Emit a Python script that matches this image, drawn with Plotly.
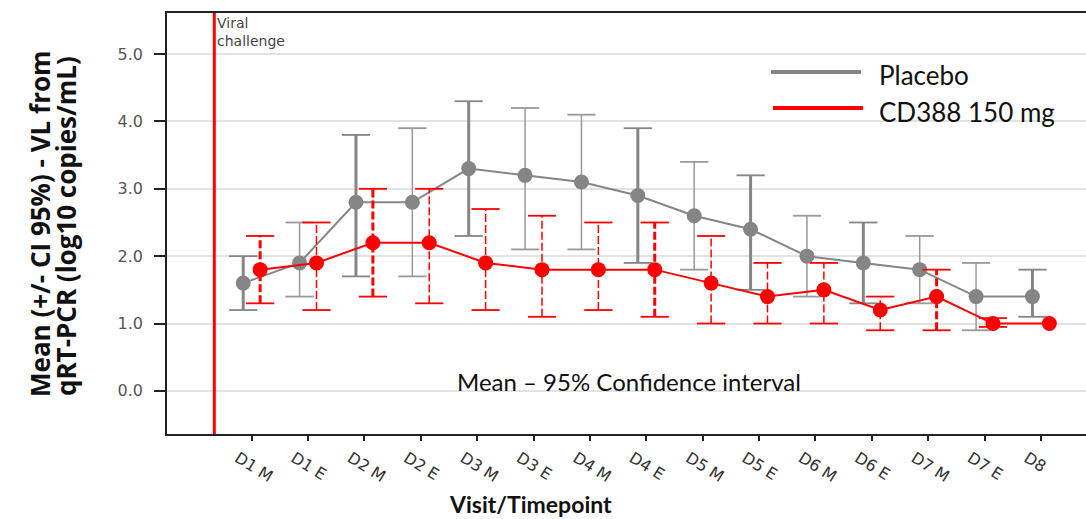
import plotly.graph_objects as go

timepoints = ["D1 M", "D1 E", "D2 M", "D2 E", "D3 M", "D3 E", "D4 M", "D4 E",
              "D5 M", "D5 E", "D6 M", "D6 E", "D7 M", "D7 E", "D8"]

placebo_mean = [1.6, 1.9, 2.8, 2.8, 3.3, 3.2, 3.1, 2.9, 2.6, 2.4, 2.0, 1.9, 1.8, 1.4, 1.4]
placebo_low  = [1.2, 1.4, 1.7, 1.7, 2.3, 2.1, 2.1, 1.9, 1.8, 1.5, 1.4, 1.3, 1.3, 0.9, 1.1]
placebo_high = [2.0, 2.5, 3.8, 3.9, 4.3, 4.2, 4.1, 3.9, 3.4, 3.2, 2.6, 2.5, 2.3, 1.9, 1.8]

cd388_mean = [1.8, 1.9, 2.2, 2.2, 1.9, 1.8, 1.8, 1.8, 1.6, 1.4, 1.5, 1.2, 1.4, 1.0, 1.0]
cd388_low  = [1.3, 1.2, 1.4, 1.3, 1.2, 1.1, 1.2, 1.1, 1.0, 1.0, 1.0, 0.9, 0.9, 0.95, 1.0]
cd388_high = [2.3, 2.5, 3.0, 3.0, 2.7, 2.6, 2.5, 2.5, 2.3, 1.9, 1.9, 1.4, 1.8, 1.08, 1.0]

y_ticks = [0, 1, 2, 3, 4, 5]
y_tick_labels = ["0.0", "1.0", "2.0", "3.0", "4.0", "5.0"]

# style (not data)
placebo_bar_w = [3, 1.5, 3, 1.5, 3, 1.5, 1.5, 3, 1.5, 3, 1.5, 3, 1.5, 1.5, 3]
cd388_bar_w   = [3, 1.5, 3, 1.5, 1.5, 1.5, 1.5, 3, 1.5, 1.5, 1.5, 1.5, 3, 1.5, 1.5]

GRAY = "#858585"
GRAY_LIGHT = "#9a9a9a"
RED = "#ff0000"
OFF = 0.15
CAP = 0.25
VIRAL_X = -0.663

x_idx = list(range(len(timepoints)))
fig = go.Figure()


def add_bars(offset, lows, highs, widths, color, thin_color, dash):
    for w in sorted(set(widths)):
        vx, vy, cx, cy = [], [], [], []
        for i, (lo, hi, ww) in enumerate(zip(lows, highs, widths)):
            if ww != w or hi - lo < 1e-6:
                continue
            x = i + offset
            vx += [x, x, None]
            vy += [lo, hi, None]
            cx += [x - CAP, x + CAP, None, x - CAP, x + CAP, None]
            cy += [lo, lo, None, hi, hi, None]
        col = color if w > 2 else thin_color
        fig.add_trace(go.Scatter(x=vx, y=vy, mode="lines", showlegend=False,
                                 hoverinfo="skip",
                                 line=dict(color=col, width=w, dash=dash)))
        fig.add_trace(go.Scatter(x=cx, y=cy, mode="lines", showlegend=False,
                                 hoverinfo="skip",
                                 line=dict(color=col, width=1.8)))


add_bars(-OFF, placebo_low, placebo_high, placebo_bar_w, GRAY, GRAY_LIGHT, "solid")
fig.add_trace(go.Scatter(x=[i - OFF for i in x_idx], y=placebo_mean, mode="lines+markers",
                         name="Placebo", showlegend=False,
                         line=dict(color=GRAY, width=2),
                         marker=dict(color=GRAY, size=15, symbol="circle")))
add_bars(OFF, cd388_low, cd388_high, cd388_bar_w, RED, RED, "8px,3px")
fig.add_trace(go.Scatter(x=[i + OFF for i in x_idx], y=cd388_mean, mode="lines+markers",
                         name="CD388 150 mg", showlegend=False,
                         line=dict(color=RED, width=2),
                         marker=dict(color=RED, size=15, symbol="circle")))

# viral challenge line
fig.add_shape(type="line", xref="x", yref="paper", x0=VIRAL_X, x1=VIRAL_X, y0=0, y1=1,
              line=dict(color=RED, width=3))
fig.add_annotation(xref="x", yref="paper", x=VIRAL_X, y=1.0, xanchor="left", yanchor="top",
                   text="Viral<br>challenge", showarrow=False, align="left",
                   font=dict(family="DejaVu Sans", size=14, color="#444"), xshift=1)

# manual legend
fig.add_shape(type="line", xref="paper", yref="paper",
              x0=(771 - 167) / 919, x1=(861 - 167) / 919,
              y0=(434 - 72) / 421, y1=(434 - 72) / 421,
              line=dict(color=GRAY, width=4))
fig.add_shape(type="line", xref="paper", yref="paper",
              x0=(773 - 167) / 919, x1=(863 - 167) / 919,
              y0=(434 - 108) / 421, y1=(434 - 108) / 421,
              line=dict(color=RED, width=4))
fig.add_annotation(xref="paper", yref="paper", x=(877 - 167) / 919, y=(434 - 75) / 421,
                   xanchor="left", yanchor="middle", text="Placebo", showarrow=False,
                   font=dict(family="Lato", size=26, color="#111"))
fig.add_annotation(xref="paper", yref="paper", x=(877 - 167) / 919, y=(434 - 112) / 421,
                   xanchor="left", yanchor="middle", text="CD388 150 mg", showarrow=False,
                   font=dict(family="Lato", size=26, color="#111"))

fig.add_annotation(xref="paper", yref="paper", x=(629 - 167) / 919, y=(434 - 381) / 421,
                   xanchor="center", yanchor="middle", text="Mean – 95% Confidence interval",
                   showarrow=False, font=dict(family="Lato", size=24, color="#111"))

# axis titles
fig.add_annotation(xref="paper", yref="paper", x=(40 - 167) / 919, y=(434 - 224) / 421,
                   xanchor="center", yanchor="middle", textangle=-90,
                   text="<b>Mean (+/- CI 95%) - VL from</b>",
                   showarrow=False, font=dict(family="Open Sans", size=26, color="#111"))
fig.add_annotation(xref="paper", yref="paper", x=(66 - 167) / 919, y=(434 - 226) / 421,
                   xanchor="center", yanchor="middle", textangle=-90,
                   text="<b>qRT-PCR (log10 copies/mL)</b>",
                   showarrow=False, font=dict(family="Open Sans", size=26, color="#111"))
fig.add_annotation(xref="paper", yref="paper", x=(530 - 167) / 919, y=(434 - 504) / 421,
                   xanchor="center", yanchor="middle", text="<b>Visit/Timepoint</b>",
                   showarrow=False, font=dict(family="Lato", size=23, color="#111"))

fig.update_layout(
    width=1086, height=519,
    margin=dict(l=167, r=0, t=13, b=85),
    plot_bgcolor="white", paper_bgcolor="white",
    showlegend=False,
    xaxis=dict(range=[-1.502, 14.80], tickmode="array", tickvals=x_idx, ticktext=timepoints,
               tickangle=32, showgrid=False, zeroline=False, showline=True, mirror=True,
               linecolor="#222", linewidth=1.5, ticks="outside", ticklen=5, tickwidth=2,
               tickcolor="#222", ticklabelshift=-14, ticklabelstandoff=2,
               tickfont=dict(family="DejaVu Sans", size=16, color="#333")),
    yaxis=dict(range=[-0.64, 5.61], tickmode="array", tickvals=y_ticks, ticktext=y_tick_labels,
               showgrid=True, gridcolor="#e3e3e3", gridwidth=1.5, zeroline=False,
               showline=True, linecolor="#222", linewidth=1.5, ticks="outside", ticklen=11,
               tickcolor="#222", tickwidth=1.5, ticklabelstandoff=8,
               tickfont=dict(family="DejaVu Sans", size=16, color="#555")),
)

fig.write_html("out.html")
